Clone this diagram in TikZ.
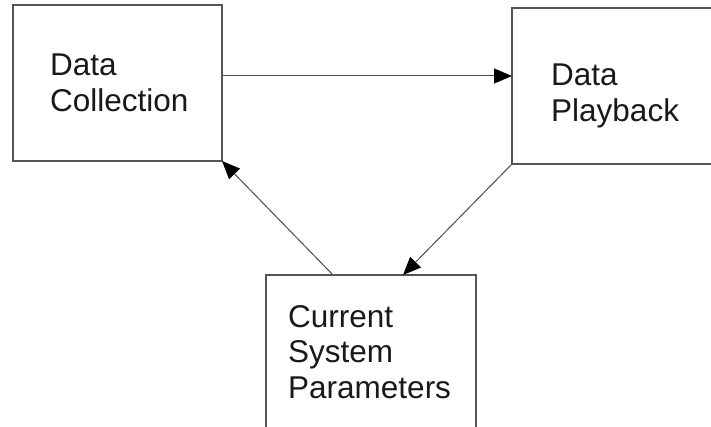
\documentclass[tikz,border=0pt]{standalone}
\usepackage{fontspec}
\setmainfont{Liberation Sans}
\usetikzlibrary{arrows.meta}
\definecolor{boxline}{RGB}{85,85,85}
\begin{document}
\begin{tikzpicture}[x=1pt,y=-1pt,
  boxnode/.style={draw=boxline,line width=1.2pt,inner sep=0pt,outer sep=0pt,anchor=north west},
  label/.style={anchor=base west,inner sep=0pt,font=\fontsize{31.5}{36}\selectfont,text=black!90},
  arr/.style={draw=black!70,line width=1pt,-{Triangle[length=18pt,width=15pt,color=black,fill=black]}}]
\useasboundingbox (0,0) rectangle (711,427);
\clip (0,0) rectangle (711,427);
\fill[white] (0,0) rectangle (711,427);
\node[boxnode,minimum width=209pt,minimum height=156pt] (b1) at (13,5) {};
\node[boxnode,minimum width=220pt,minimum height=156pt] (b2) at (512,8) {};
\node[boxnode,minimum width=210pt,minimum height=170pt] (b3) at (266,275) {};
\node[label] (t1a) at (50,76) {Data};
\node[label] (t1b) at (50,112) {Collection};
\node[label] (t2a) at (551,86) {Data};
\node[label] (t2b) at (551,122) {Playback};
\node[label] (t3a) at (288,327) {Current};
\node[label] (t3b) at (288,362) {System};
\node[label] (t3c) at (288,398) {Parameters};
\draw[arr] ([yshift=-71pt]b1.north east) -- ([yshift=-68pt]b2.north west);
\draw[arr] (b2.south west) -- ([xshift=137pt]b3.north west);
\draw[arr] ([xshift=67pt]b3.north west) -- (b1.south east);
\end{tikzpicture}
\end{document}
